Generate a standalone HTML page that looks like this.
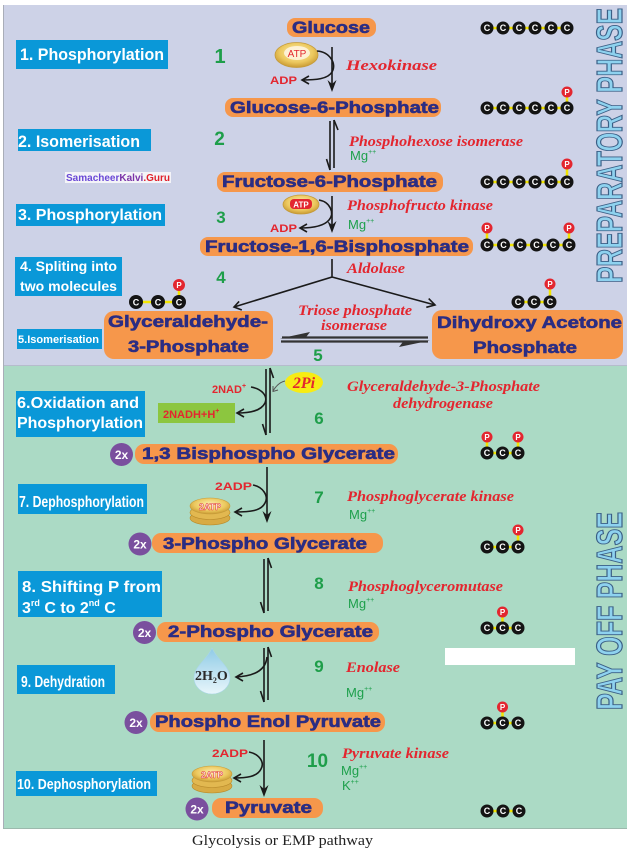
<!DOCTYPE html>
<html><head><meta charset="utf-8">
<style>
html,body{margin:0;padding:0;background:#fff;}
svg{display:block;}
.c{fill:#141414}
.ct{fill:#fff;font-family:"Liberation Sans",sans-serif;font-weight:bold;font-size:9px;text-anchor:middle}
.p{fill:#e3262f}
.pt{fill:#fff;font-family:"Liberation Sans",sans-serif;font-weight:bold;font-size:8px;text-anchor:middle}
.y{stroke:#f2e500;stroke-width:2.5}
.pill{fill:#f6974b}
.pt2{fill:#2b2d83;stroke:#2b2d83;stroke-width:0.6;font-family:"Liberation Sans",sans-serif;font-weight:bold;font-size:17px}
.lab{fill:#fff;font-family:"Liberation Sans",sans-serif;font-weight:bold}
.enz{fill:#e3262f;font-family:"Liberation Serif",serif;font-weight:bold;font-style:italic;font-size:15px}
.mg{fill:#1ea04c;font-family:"Liberation Sans",sans-serif;font-size:13px}
.num{fill:#1e9e4a;font-family:"Liberation Sans",sans-serif;font-weight:bold;text-anchor:middle}
.ar{stroke:#1a1a1a;stroke-width:1.6;fill:none}
.ah{fill:#1a1a1a}
.red{fill:#e3262f;font-family:"Liberation Sans",sans-serif;font-weight:bold;font-size:11px}
.two{fill:#7a4f9e}
.twot{fill:#fff;font-family:"Liberation Sans",sans-serif;font-weight:bold;font-size:12px;text-anchor:middle}
</style></head><body>
<svg width="631" height="848" viewBox="0 0 631 848" xmlns="http://www.w3.org/2000/svg">
<defs>
<radialGradient id="gold" cx="50%" cy="40%" r="60%"><stop offset="0" stop-color="#fdf0b0"/><stop offset="0.65" stop-color="#ecc85e"/><stop offset="1" stop-color="#c99a32"/></radialGradient>
<linearGradient id="drop" x1="0" y1="0" x2="0" y2="1"><stop offset="0" stop-color="#8fcbe6"/><stop offset="1" stop-color="#e8f6fb"/></linearGradient>
</defs>
<rect width="631" height="848" fill="#fff"/>
<rect x="3" y="5" width="624" height="361" fill="#cdd2e7"/>
<rect x="3" y="366" width="624" height="462" fill="#abdac5"/>
<line x1="3" y1="365.5" x2="627" y2="365.5" stroke="#b5bccc"/>
<line x1="3.5" y1="5" x2="3.5" y2="828" stroke="#a9adb8"/>
<line x1="3" y1="828.5" x2="627" y2="828.5" stroke="#9cb9ad"/>

<!-- left labels -->
<g fill="#0a98d8">
<rect x="16" y="40" width="152" height="29"/>
<rect x="18" y="129" width="133" height="22"/>
<rect x="16" y="204" width="149" height="22"/>
<rect x="15" y="257" width="107" height="39"/>
<rect x="17" y="329" width="85" height="20"/>
<rect x="16" y="391" width="129" height="46"/>
<rect x="18" y="484" width="129" height="30"/>
<rect x="18" y="571" width="144" height="46"/>
<rect x="17" y="665" width="98" height="29"/>
<rect x="16" y="771" width="141" height="25"/>
</g>
<text class="lab" x="20" y="60" font-size="17" textLength="144" lengthAdjust="spacingAndGlyphs">1. Phosphorylation</text>
<text class="lab" x="18" y="147" font-size="17" textLength="122" lengthAdjust="spacingAndGlyphs">2. Isomerisation</text>
<text class="lab" x="18" y="220" font-size="16" textLength="144" lengthAdjust="spacingAndGlyphs">3. Phosphorylation</text>
<text class="lab" x="20" y="271" font-size="14" textLength="97" lengthAdjust="spacingAndGlyphs">4. Spliting into</text>
<text class="lab" x="20" y="291" font-size="14" textLength="97" lengthAdjust="spacingAndGlyphs">two molecules</text>
<text class="lab" x="18" y="343" font-size="11" textLength="81" lengthAdjust="spacingAndGlyphs">5.Isomerisation</text>
<text class="lab" x="17" y="408" font-size="16" textLength="122" lengthAdjust="spacingAndGlyphs">6.Oxidation and</text>
<text class="lab" x="17" y="428" font-size="16" textLength="126" lengthAdjust="spacingAndGlyphs">Phosphorylation</text>
<text class="lab" x="19" y="507" font-size="16" textLength="125" lengthAdjust="spacingAndGlyphs">7. Dephosphorylation</text>
<text class="lab" x="22" y="592" font-size="16" textLength="139" lengthAdjust="spacingAndGlyphs">8. Shifting P from</text>
<text class="lab" x="22" y="613" font-size="16">3<tspan font-size="9" dy="-7">rd</tspan><tspan dy="7"> C to 2</tspan><tspan font-size="9" dy="-7">nd</tspan><tspan dy="7"> C</tspan></text>
<text class="lab" x="21" y="687" font-size="16" textLength="84" lengthAdjust="spacingAndGlyphs">9. Dehydration</text>
<text class="lab" x="17" y="789" font-size="15" textLength="134" lengthAdjust="spacingAndGlyphs">10. Dephosphorylation</text>

<!-- watermark -->
<rect x="65" y="172" width="106" height="11" fill="#f4f4f8"/>
<text x="66" y="181" font-family="Liberation Sans,sans-serif" font-weight="bold" font-size="10" textLength="104" lengthAdjust="spacingAndGlyphs"><tspan fill="#6a48d6">Samacheer</tspan><tspan fill="#7b34a8">Kalvi</tspan><tspan fill="#e0202a">.Guru</tspan></text>

<!-- numbers -->
<text class="num" x="220" y="63" font-size="20">1</text>
<text class="num" x="219.5" y="145" font-size="19">2</text>
<text class="num" x="221" y="223" font-size="17">3</text>
<text class="num" x="221" y="283" font-size="17">4</text>
<text class="num" x="318" y="361" font-size="17">5</text>
<text class="num" x="319" y="424" font-size="17">6</text>
<text class="num" x="319" y="503" font-size="17">7</text>
<text class="num" x="319" y="589" font-size="17">8</text>
<text class="num" x="319" y="672" font-size="17">9</text>
<text class="num" x="317.5" y="767" font-size="19">10</text>

<!-- pills -->
<rect class="pill" x="287" y="18" width="89" height="19" rx="8"/>
<rect class="pill" x="225" y="98" width="216" height="19" rx="8"/>
<rect class="pill" x="217" y="172" width="226" height="20" rx="8"/>
<rect class="pill" x="200" y="237" width="273" height="19" rx="8"/>
<rect class="pill" x="104" y="311" width="169" height="48" rx="10"/>
<rect class="pill" x="432" y="310" width="191" height="49" rx="10"/>
<rect class="pill" x="135" y="444" width="263" height="20" rx="9"/>
<rect class="pill" x="152" y="533" width="231" height="20" rx="9"/>
<rect class="pill" x="157" y="622" width="222" height="20" rx="9"/>
<rect class="pill" x="150" y="712" width="235" height="20" rx="9"/>
<rect class="pill" x="212" y="798" width="111" height="20" rx="9"/>

<text class="pt2" x="292" y="33" textLength="78" lengthAdjust="spacingAndGlyphs">Glucose</text>
<text class="pt2" x="230" y="113" textLength="209" lengthAdjust="spacingAndGlyphs">Glucose-6-Phosphate</text>
<text class="pt2" x="222" y="187" textLength="215" lengthAdjust="spacingAndGlyphs">Fructose-6-Phosphate</text>
<text class="pt2" x="205" y="252" textLength="264" lengthAdjust="spacingAndGlyphs">Fructose-1,6-Bisphosphate</text>
<text class="pt2" x="108" y="327" textLength="160" lengthAdjust="spacingAndGlyphs">Glyceraldehyde-</text>
<text class="pt2" x="128" y="352" textLength="121" lengthAdjust="spacingAndGlyphs">3-Phosphate</text>
<text class="pt2" x="437" y="328" textLength="185" lengthAdjust="spacingAndGlyphs">Dihydroxy Acetone</text>
<text class="pt2" x="473" y="353" textLength="104" lengthAdjust="spacingAndGlyphs">Phosphate</text>
<text class="pt2" x="142" y="459" textLength="253" lengthAdjust="spacingAndGlyphs">1,3 Bisphospho Glycerate</text>
<text class="pt2" x="163" y="549" textLength="204" lengthAdjust="spacingAndGlyphs">3-Phospho Glycerate</text>
<text class="pt2" x="168" y="637" textLength="205" lengthAdjust="spacingAndGlyphs">2-Phospho Glycerate</text>
<text class="pt2" x="155" y="727" textLength="226" lengthAdjust="spacingAndGlyphs">Phospho Enol Pyruvate</text>
<text class="pt2" x="225" y="813" textLength="87" lengthAdjust="spacingAndGlyphs">Pyruvate</text>

<!-- 2x circles -->
<circle class="two" cx="121.5" cy="454.5" r="11.5"/><text class="twot" x="121.5" y="459">2x</text>
<circle class="two" cx="140" cy="544" r="11.5"/><text class="twot" x="140" y="548.5">2x</text>
<circle class="two" cx="144.5" cy="632.5" r="11.5"/><text class="twot" x="144.5" y="637">2x</text>
<circle class="two" cx="136" cy="722.5" r="11.5"/><text class="twot" x="136" y="727">2x</text>
<circle class="two" cx="197" cy="809" r="11.5"/><text class="twot" x="197" y="813.5">2x</text>

<!-- enzymes -->
<text class="enz" x="346" y="70" font-size="17" textLength="91" lengthAdjust="spacingAndGlyphs">Hexokinase</text>
<text class="enz" x="349" y="146" textLength="174" lengthAdjust="spacingAndGlyphs">Phosphohexose isomerase</text>
<text class="enz" x="347" y="210" textLength="146" lengthAdjust="spacingAndGlyphs">Phosphofructo kinase</text>
<text class="enz" x="347" y="273" textLength="58" lengthAdjust="spacingAndGlyphs">Aldolase</text>
<text class="enz" x="298" y="315" textLength="114" lengthAdjust="spacingAndGlyphs">Triose phosphate</text>
<text class="enz" x="321" y="330" textLength="66" lengthAdjust="spacingAndGlyphs">isomerase</text>
<text class="enz" x="347" y="391" textLength="193" lengthAdjust="spacingAndGlyphs">Glyceraldehyde-3-Phosphate</text>
<text class="enz" x="393" y="408" textLength="100" lengthAdjust="spacingAndGlyphs">dehydrogenase</text>
<text class="enz" x="347" y="501" textLength="167" lengthAdjust="spacingAndGlyphs">Phosphoglycerate kinase</text>
<text class="enz" x="348" y="591" textLength="155" lengthAdjust="spacingAndGlyphs">Phosphoglyceromutase</text>
<text class="enz" x="346" y="672" textLength="54" lengthAdjust="spacingAndGlyphs">Enolase</text>
<text class="enz" x="342" y="758" textLength="107" lengthAdjust="spacingAndGlyphs">Pyruvate kinase</text>

<text class="mg" x="350" y="160">Mg<tspan font-size="7" dy="-6">++</tspan></text>
<text class="mg" x="348" y="229">Mg<tspan font-size="7" dy="-6">++</tspan></text>
<text class="mg" x="349" y="519">Mg<tspan font-size="7" dy="-6">++</tspan></text>
<text class="mg" x="348" y="608">Mg<tspan font-size="7" dy="-6">++</tspan></text>
<text class="mg" x="346" y="697">Mg<tspan font-size="7" dy="-6">++</tspan></text>
<text class="mg" x="341" y="775">Mg<tspan font-size="7" dy="-6">++</tspan></text>
<text class="mg" x="342" y="790">K<tspan font-size="7" dy="-6">++</tspan></text>

<!-- step 1 -->
<line class="ar" x1="332" y1="47" x2="332" y2="86"/>
<path class="ah" d="M332,92 L327.5,80 L332,84 L336.5,80 Z"/>
<ellipse cx="296.5" cy="55" rx="21.5" ry="12.5" fill="url(#gold)" stroke="#c49a3a" stroke-width=".8"/>
<ellipse cx="297" cy="53" rx="13" ry="7" fill="#fff6e4" opacity=".85"/>
<text x="297" y="57" font-family="Liberation Sans,sans-serif" font-size="10" fill="#e3262f" text-anchor="middle">ATP</text>
<path class="ar" d="M317,51 C330,52 337,64 332,72 C328,79 316,80 302,80"/>
<path class="ar" d="M309,76 L302,80 L309,84"/>
<text class="red" x="270" y="84" textLength="27" lengthAdjust="spacingAndGlyphs">ADP</text>

<!-- step 2 -->
<line class="ar" x1="330" y1="121" x2="330" y2="170" stroke-width="1.8"/>
<path class="ar" d="M330,170 L326.5,159"/>
<line class="ar" x1="334" y1="120" x2="334" y2="168" stroke-width="1.8"/>
<path class="ar" d="M334,120 L338,130"/>

<!-- step 3 -->
<line class="ar" x1="332" y1="196" x2="332" y2="227"/>
<path class="ah" d="M332,233 L327.5,221 L332,225 L336.5,221 Z"/>
<ellipse cx="301" cy="204.5" rx="18" ry="9.5" fill="url(#gold)" stroke="#c49a3a" stroke-width=".8"/>
<rect x="290" y="199" width="22" height="10" rx="4" fill="#e3262f"/>
<text x="301" y="207.5" font-family="Liberation Sans,sans-serif" font-weight="bold" font-size="8" fill="#fff" text-anchor="middle">ATP</text>
<path class="ar" d="M319,200 C330,202 335,213 329,220 C324,226 314,228 300,228"/>
<path class="ar" d="M307,224 L300,228 L307,232"/>
<text class="red" x="270" y="232" textLength="27" lengthAdjust="spacingAndGlyphs">ADP</text>

<!-- step 4 -->
<path class="ar" d="M332,259 L332,277 L234,307 M332,277 L435,305"/>
<path class="ar" d="M241.8,310 L234,307 L239.1,301.4"/>
<path class="ar" d="M428.7,298.6 L435,305 L426.3,307.3"/>

<!-- step 5 -->
<line x1="282" y1="337.5" x2="428" y2="337.5" stroke="#333" stroke-width="2.2"/>
<path d="M280,338.5 L310,332 L305,338.5 Z" fill="#333"/>
<line x1="281" y1="341.5" x2="428" y2="341.5" stroke="#333" stroke-width="2.2"/>
<path d="M430,340.5 L399,347 L404,340.5 Z" fill="#333"/>

<!-- step 6 -->
<line class="ar" x1="266" y1="369" x2="266" y2="435" stroke-width="1.8"/>
<path class="ar" d="M266,435 L262.5,424"/>
<line class="ar" x1="270" y1="368" x2="270" y2="433" stroke-width="1.8"/>
<path class="ar" d="M270,368 L273.5,378"/>
<ellipse cx="304" cy="382.5" rx="19" ry="10.5" fill="#f7ec13"/>
<text x="304" y="388" font-family="Liberation Serif,serif" font-weight="bold" font-style="italic" font-size="16" fill="#e3262f" text-anchor="middle">2Pi</text>
<path d="M285,381 C280,382 276,386 273,391" stroke="#555" stroke-width="1" fill="none"/>
<path d="M273,386 L273,391.5 L278,390" stroke="#555" stroke-width="1" fill="none"/>
<text class="red" x="212" y="393" font-size="10">2NAD<tspan font-size="7" dy="-5">+</tspan></text>
<path class="ar" d="M251,387 C262,389 268,396 265,403 C261,411 250,413 237,413"/>
<path class="ar" d="M244,409 L237,413 L244,417"/>
<rect x="158" y="403" width="77" height="20" fill="#8cc63f"/>
<text class="red" x="163" y="418" font-size="10">2NADH+H<tspan font-size="7" dy="-5">+</tspan></text>

<!-- step 7 -->
<line class="ar" x1="267" y1="467" x2="267" y2="517"/>
<path class="ah" d="M267,523 L262.5,511 L267,515 L271.5,511 Z"/>
<text class="red" x="215" y="490" textLength="37" lengthAdjust="spacingAndGlyphs">2ADP</text>
<path class="ar" d="M253,485 C263,487 269,496 265,503 C261,511 250,512 235,512"/>
<path class="ar" d="M242,508 L235,512 L242,516"/>
<ellipse cx="210" cy="518" rx="20" ry="7" fill="#d8ab44" stroke="#b88a2a" stroke-width=".6"/>
<ellipse cx="210" cy="512.5" rx="20" ry="7" fill="#e2b850" stroke="#b88a2a" stroke-width=".6"/>
<ellipse cx="210" cy="506" rx="20" ry="8" fill="url(#gold)" stroke="#c49a3a" stroke-width=".6"/>
<text x="210" y="510" font-family="Liberation Sans,sans-serif" font-weight="bold" font-size="9" fill="#fff" stroke="#e03030" stroke-width=".5" text-anchor="middle">2ATP</text>

<!-- step 8 -->
<line class="ar" x1="264" y1="559" x2="264" y2="613" stroke-width="1.8"/>
<path class="ar" d="M264,613 L260.5,602"/>
<line class="ar" x1="268" y1="558" x2="268" y2="611" stroke-width="1.8"/>
<path class="ar" d="M268,558 L271.5,568"/>

<!-- step 9 -->
<line class="ar" x1="264" y1="648" x2="264" y2="702" stroke-width="1.8"/>
<path class="ar" d="M264,702 L260.5,691"/>
<line class="ar" x1="268" y1="647" x2="268" y2="700" stroke-width="1.8"/>
<path class="ar" d="M268,647 L271.5,657"/>
<path d="M212,648 C207,660 194,666 194,678 A18,16 0 0 0 230,678 C230,666 217,660 212,648 Z" fill="url(#drop)" stroke="#a9d6e8" stroke-width=".6"/>
<text x="195" y="680" font-family="Liberation Serif,serif" font-weight="bold" font-size="14" fill="#2a2a2a">2H<tspan font-size="8" dy="3">2</tspan><tspan dy="-3">O</tspan></text>
<path class="ar" d="M267,657 C266,668 258,676 236,677"/>
<path class="ar" d="M243,673 L236,677 L243,681"/>

<!-- step 10 -->
<line class="ar" x1="264" y1="740" x2="264" y2="791"/>
<path class="ah" d="M264,797 L259.5,785 L264,789 L268.5,785 Z"/>
<text class="red" x="212" y="757" textLength="36" lengthAdjust="spacingAndGlyphs">2ADP</text>
<path class="ar" d="M249,752 C259,754 265,762 261,769 C257,777 246,778 234,778"/>
<path class="ar" d="M241,774 L234,778 L241,782"/>
<ellipse cx="212" cy="786" rx="20" ry="7" fill="#d8ab44" stroke="#b88a2a" stroke-width=".6"/>
<ellipse cx="212" cy="780.5" rx="20" ry="7" fill="#e2b850" stroke="#b88a2a" stroke-width=".6"/>
<ellipse cx="212" cy="774" rx="20" ry="8" fill="url(#gold)" stroke="#c49a3a" stroke-width=".6"/>
<text x="212" y="778" font-family="Liberation Sans,sans-serif" font-weight="bold" font-size="9" fill="#fff" stroke="#e03030" stroke-width=".5" text-anchor="middle">2ATP</text>

<!-- white box -->
<rect x="445" y="648" width="130" height="17" fill="#fff"/>

<!-- carbon chains -->
<line class="y" x1="487" y1="28" x2="567" y2="28"/>
<g class="c"><circle cx="487" cy="28" r="6.5"/><circle cx="503" cy="28" r="6.5"/><circle cx="519" cy="28" r="6.5"/><circle cx="535" cy="28" r="6.5"/><circle cx="551" cy="28" r="6.5"/><circle cx="567" cy="28" r="6.5"/></g>
<g class="ct"><text x="487" y="31.2">C</text><text x="503" y="31.2">C</text><text x="519" y="31.2">C</text><text x="535" y="31.2">C</text><text x="551" y="31.2">C</text><text x="567" y="31.2">C</text></g>

<line class="y" x1="487" y1="108" x2="567" y2="108"/><line class="y" x1="567" y1="92" x2="567" y2="102"/>
<g class="c"><circle cx="487" cy="108" r="6.5"/><circle cx="503" cy="108" r="6.5"/><circle cx="519" cy="108" r="6.5"/><circle cx="535" cy="108" r="6.5"/><circle cx="551" cy="108" r="6.5"/><circle cx="567" cy="108" r="6.5"/></g>
<g class="ct"><text x="487" y="111.2">C</text><text x="503" y="111.2">C</text><text x="519" y="111.2">C</text><text x="535" y="111.2">C</text><text x="551" y="111.2">C</text><text x="567" y="111.2">C</text></g>
<circle class="p" cx="567" cy="92" r="5.5"/><text class="pt" x="567" y="95">P</text>

<line class="y" x1="487" y1="182" x2="567" y2="182"/><line class="y" x1="567" y1="164" x2="567" y2="176"/>
<g class="c"><circle cx="487" cy="182" r="6.5"/><circle cx="503" cy="182" r="6.5"/><circle cx="519" cy="182" r="6.5"/><circle cx="535" cy="182" r="6.5"/><circle cx="551" cy="182" r="6.5"/><circle cx="567" cy="182" r="6.5"/></g>
<g class="ct"><text x="487" y="185.2">C</text><text x="503" y="185.2">C</text><text x="519" y="185.2">C</text><text x="535" y="185.2">C</text><text x="551" y="185.2">C</text><text x="567" y="185.2">C</text></g>
<circle class="p" cx="567" cy="164" r="5.5"/><text class="pt" x="567" y="167">P</text>

<line class="y" x1="487" y1="245" x2="569" y2="245"/><line class="y" x1="487" y1="228" x2="487" y2="239"/><line class="y" x1="569" y1="228" x2="569" y2="239"/>
<g class="c"><circle cx="487" cy="245" r="6.5"/><circle cx="503.5" cy="245" r="6.5"/><circle cx="520" cy="245" r="6.5"/><circle cx="536.5" cy="245" r="6.5"/><circle cx="553" cy="245" r="6.5"/><circle cx="569" cy="245" r="6.5"/></g>
<g class="ct"><text x="487" y="248.2">C</text><text x="503.5" y="248.2">C</text><text x="520" y="248.2">C</text><text x="536.5" y="248.2">C</text><text x="553" y="248.2">C</text><text x="569" y="248.2">C</text></g>
<circle class="p" cx="487" cy="228" r="5.5"/><text class="pt" x="487" y="231">P</text>
<circle class="p" cx="569" cy="228" r="5.5"/><text class="pt" x="569" y="231">P</text>

<line class="y" x1="136" y1="302" x2="179" y2="302"/><line class="y" x1="179" y1="285" x2="179" y2="296"/>
<g class="c"><circle cx="136" cy="302" r="7"/><circle cx="158" cy="302" r="7"/><circle cx="179" cy="302" r="7"/></g>
<g class="ct" font-size="10"><text x="136" y="305.5">C</text><text x="158" y="305.5">C</text><text x="179" y="305.5">C</text></g>
<circle class="p" cx="179" cy="285" r="6"/><text class="pt" x="179" y="288">P</text>

<line class="y" x1="518" y1="302" x2="550" y2="302"/><line class="y" x1="550" y1="284" x2="550" y2="296"/>
<g class="c"><circle cx="518" cy="302" r="6.5"/><circle cx="534" cy="302" r="6.5"/><circle cx="550" cy="302" r="6.5"/></g>
<g class="ct"><text x="518" y="305.2">C</text><text x="534" y="305.2">C</text><text x="550" y="305.2">C</text></g>
<circle class="p" cx="550" cy="284" r="5.5"/><text class="pt" x="550" y="287">P</text>

<line class="y" x1="487" y1="453" x2="518" y2="453"/><line class="y" x1="487" y1="437" x2="487" y2="447"/><line class="y" x1="518" y1="437" x2="518" y2="447"/>
<g class="c"><circle cx="487" cy="453" r="6.5"/><circle cx="502.5" cy="453" r="6.5"/><circle cx="518" cy="453" r="6.5"/></g>
<g class="ct"><text x="487" y="456.2">C</text><text x="502.5" y="456.2">C</text><text x="518" y="456.2">C</text></g>
<circle class="p" cx="487" cy="437" r="5.5"/><text class="pt" x="487" y="440">P</text>
<circle class="p" cx="518" cy="437" r="5.5"/><text class="pt" x="518" y="440">P</text>

<line class="y" x1="487" y1="547" x2="518" y2="547"/><line class="y" x1="518" y1="530" x2="518" y2="541"/>
<g class="c"><circle cx="487" cy="547" r="6.5"/><circle cx="502.5" cy="547" r="6.5"/><circle cx="518" cy="547" r="6.5"/></g>
<g class="ct"><text x="487" y="550.2">C</text><text x="502.5" y="550.2">C</text><text x="518" y="550.2">C</text></g>
<circle class="p" cx="518" cy="530" r="5.5"/><text class="pt" x="518" y="533">P</text>

<line class="y" x1="487" y1="628" x2="518" y2="628"/><line class="y" x1="502.5" y1="612" x2="502.5" y2="622"/>
<g class="c"><circle cx="487" cy="628" r="6.5"/><circle cx="502.5" cy="628" r="6.5"/><circle cx="518" cy="628" r="6.5"/></g>
<g class="ct"><text x="487" y="631.2">C</text><text x="502.5" y="631.2">C</text><text x="518" y="631.2">C</text></g>
<circle class="p" cx="502.5" cy="612" r="5.5"/><text class="pt" x="502.5" y="615">P</text>

<line class="y" x1="487" y1="723" x2="518" y2="723"/><line class="y" x1="502.5" y1="707" x2="502.5" y2="717"/>
<g class="c"><circle cx="487" cy="723" r="6.5"/><circle cx="502.5" cy="723" r="6.5"/><circle cx="518" cy="723" r="6.5"/></g>
<g class="ct"><text x="487" y="726.2">C</text><text x="502.5" y="726.2">C</text><text x="518" y="726.2">C</text></g>
<circle class="p" cx="502.5" cy="707" r="5.5"/><text class="pt" x="502.5" y="710">P</text>

<line class="y" x1="487" y1="811" x2="519" y2="811"/>
<g class="c"><circle cx="487" cy="811" r="6.5"/><circle cx="503" cy="811" r="6.5"/><circle cx="519" cy="811" r="6.5"/></g>
<g class="ct"><text x="487" y="814.2">C</text><text x="503" y="814.2">C</text><text x="519" y="814.2">C</text></g>

<!-- phase labels -->
<text transform="translate(622,283) rotate(-90)" x="0" y="0" font-family="Liberation Sans,sans-serif" font-weight="bold" font-size="36" textLength="275" lengthAdjust="spacingAndGlyphs" fill="#8ed2ef" stroke="#3b5f86" stroke-width="1.2">PREPARATORY PHASE</text>
<text transform="translate(622,710) rotate(-90)" x="0" y="0" font-family="Liberation Sans,sans-serif" font-weight="bold" font-size="36" textLength="198" lengthAdjust="spacingAndGlyphs" fill="#8ed2ef" stroke="#3b5f86" stroke-width="1.2">PAY OFF PHASE</text>

<!-- caption -->
<text x="192" y="845" font-family="Liberation Serif,serif" font-size="15" fill="#222" textLength="181" lengthAdjust="spacingAndGlyphs">Glycolysis or EMP pathway</text>
</svg>
</body></html>
